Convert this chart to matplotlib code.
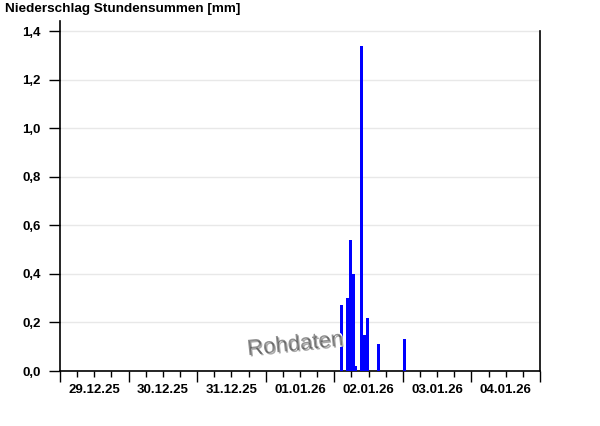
import matplotlib
matplotlib.use("Agg")
import matplotlib.pyplot as plt
import matplotlib.dates as mdates
import matplotlib.patheffects as pe
import pandas as pd

plt.rcParams.update({
    "font.family": ["Liberation Sans", "DejaVu Sans"],
    "font.size": 9,
    "font.weight": "bold",
})

# hourly precipitation (start of hour, value in mm)
hours = ["2026-01-02 02:00", "2026-01-02 04:00", "2026-01-02 05:00",
         "2026-01-02 06:00", "2026-01-02 07:00", "2026-01-02 09:00",
         "2026-01-02 10:00", "2026-01-02 11:00", "2026-01-02 15:00",
         "2026-01-03 00:00"]
precip = [0.27, 0.30, 0.54, 0.40, 0.02, 1.34, 0.15, 0.22, 0.11, 0.13]

day_labels = ["29.12.25", "30.12.25", "31.12.25", "01.01.26",
              "02.01.26", "03.01.26", "04.01.26"]
yticks = [0.0, 0.2, 0.4, 0.6, 0.8, 1.0, 1.2, 1.4]

start = pd.Timestamp("2025-12-29 00:00")
end = pd.Timestamp("2026-01-05 00:00")

fig = plt.figure(figsize=(6.0, 4.26), dpi=100)
ax = fig.add_axes([0.1, 0.1291, 0.8, 0.8216])

t = mdates.date2num(pd.to_datetime(hours))
ax.bar(t, precip, width=1.1 / 24, align="edge", color="#0000ff", zorder=3)

ax.set_xlim(mdates.date2num(start), mdates.date2num(end))
ax.set_ylim(0, 1.4 * 350 / 340)

ax.set_yticks(yticks)
ax.set_yticklabels([f"{v:.1f}".replace(".", ",") for v in yticks])
ax.yaxis.grid(True, color="#e8e8e8", linewidth=1, zorder=0)
ax.tick_params(axis="y", direction="out", length=8, width=1, pad=6,
               labelsize=9.5, colors="black")

# midnight = long ticks, every 6 h = short ticks, date labels at noon
days = pd.date_range(start, end, freq="D")
ax.set_xticks(mdates.date2num(days))
ax.set_xticklabels([""] * len(days))
six = pd.date_range(start, end, freq="6h")
ax.set_xticks(mdates.date2num(six), minor=True)
lab = {pd.Timestamp(d) + pd.Timedelta(hours=12): s
       for d, s in zip(days, day_labels)}
ax.set_xticklabels([lab.get(s, "") for s in six], minor=True)
ax.tick_params(axis="x", which="major", direction="out", length=8, width=1)
ax.tick_params(axis="x", which="minor", direction="out", length=4, width=1,
               pad=5, labelsize=9.5)

ax.spines["top"].set_visible(False)
ax.spines["right"].set_bounds(0, 1.4)
for s in ["left", "bottom", "right"]:
    ax.spines[s].set_linewidth(1.2)

fig.text(0.008, 0.993, "Niederschlag Stundensummen [mm]", ha="left",
         va="top", fontsize=9.7, fontweight="bold")

ax.text(0.49, 0.075, "Rohdaten", transform=ax.transAxes, ha="center",
        va="center", rotation=6, fontsize=16, fontweight="normal",
        color="#909090", zorder=5,
        path_effects=[pe.withStroke(linewidth=2, foreground="white"),
                      pe.SimplePatchShadow(offset=(1, -1), alpha=0.4)])

fig.savefig("out.png", dpi=100)
